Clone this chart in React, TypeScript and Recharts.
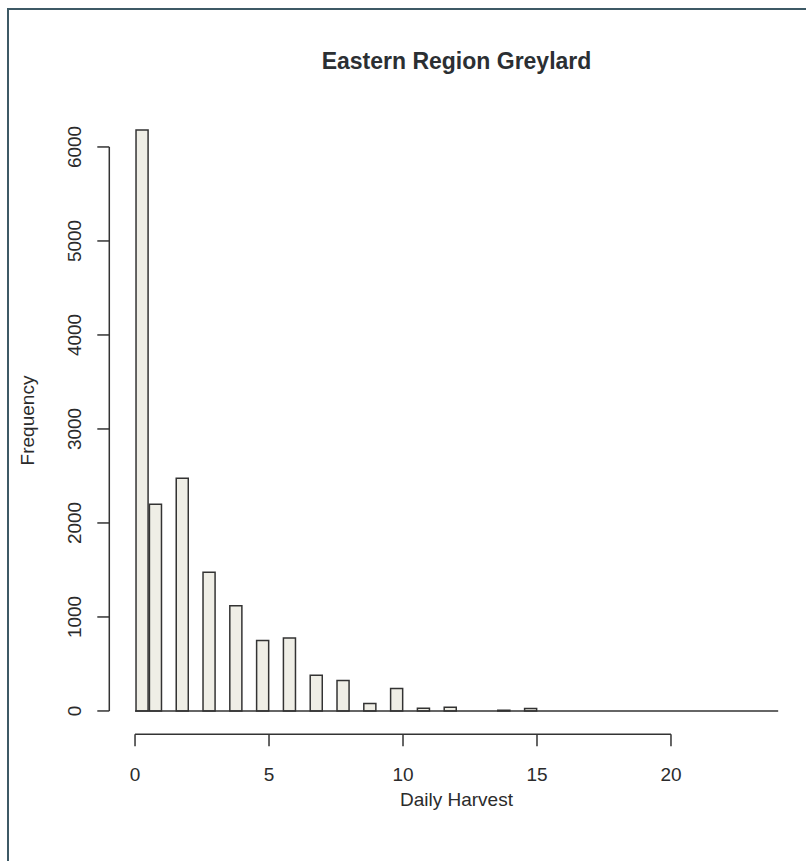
import React from 'react';
import { ComposedChart, Bar, XAxis, YAxis, ReferenceLine } from 'recharts';

// daily harvest value -> frequency (R hist, breaks every 0.5)
const harvestValues = [0, 1, 2, 3, 4, 5, 6, 7, 8, 9, 10, 11, 12, 13, 14, 15];
const frequencies = [6180, 2200, 2475, 1475, 1120, 750, 775, 380, 325, 80, 240, 30, 40, 0, 8, 25];
const xTicks = [0, 5, 10, 15, 20];
const yTicks = [0, 1000, 2000, 3000, 4000, 5000, 6000];

const BIN = 0.5;
const BREAK_MAX = 24;
const X_MIN = -0.04 * BREAK_MAX;
const X_MAX = BREAK_MAX * 1.04;
const Y_TOP = Math.max(...frequencies);
const Y_MIN = -0.04 * Y_TOP;
const Y_MAX = Y_TOP * 1.04;

const bins = harvestValues.map((v, i) => {
  const start = v === 0 ? 0 : v - BIN;
  return { mid: start + BIN / 2, count: frequencies[i] };
});

const W = 806;
const H = 861;
const margin = { top: 106.8, right: 2.1, bottom: 66.8, left: 9.3 };
const Y_AXIS_W = 100;
const X_AXIS_H = 60;
const plotWidth = W - margin.left - margin.right - Y_AXIS_W;
const barSize = (BIN * plotWidth) / (X_MAX - X_MIN);

const FONT = '"Liberation Sans", Arial, Helvetica, sans-serif';
const INK = '#333';

const YTick = (props: any) => {
  const { x, y, payload } = props;
  const tx = x - 16.5;
  return (
    <text
      x={tx}
      y={y}
      transform={`rotate(-90 ${tx} ${y})`}
      textAnchor="middle"
      fontSize={19}
      fontFamily={FONT}
      fill="#2b2b2b"
    >
      {payload.value}
    </text>
  );
};

export default function App() {
  return (
    <div
      style={{
        position: 'absolute',
        left: 0,
        top: 0,
        width: W,
        height: H,
        background: '#fff',
        overflow: 'hidden',
        fontFamily: FONT,
      }}
    >
      <div
        style={{
          position: 'absolute',
          left: 7,
          top: 8,
          right: -4,
          bottom: -4,
          borderTop: '2px solid #3d5965',
          borderLeft: '2px solid #3d5965',
        }}
      />
      <ComposedChart width={W} height={H} data={bins} margin={margin}>
        <XAxis
          type="number"
          dataKey="mid"
          domain={[X_MIN, X_MAX]}
          allowDataOverflow
          ticks={xTicks}
          axisLine={false}
          tickSize={12}
          tickMargin={21}
          height={X_AXIS_H}
          tickLine={{ stroke: INK, strokeWidth: 1.5 }}
          tick={{ fontSize: 19, fill: '#2b2b2b', fontFamily: FONT }}
        />
        <YAxis
          type="number"
          domain={[Y_MIN, Y_MAX]}
          allowDataOverflow
          ticks={yTicks}
          axisLine={false}
          tickSize={12}
          tickMargin={0}
          width={Y_AXIS_W}
          tickLine={{ stroke: INK, strokeWidth: 1.5 }}
          tick={<YTick />}
        />
        <ReferenceLine
          segment={[{ x: xTicks[0], y: Y_MIN }, { x: xTicks[xTicks.length - 1], y: Y_MIN }]}
          stroke={INK}
          strokeWidth={1.5}
          ifOverflow="visible"
        />
        <ReferenceLine
          segment={[{ x: X_MIN, y: yTicks[0] }, { x: X_MIN, y: yTicks[yTicks.length - 1] }]}
          stroke={INK}
          strokeWidth={1.5}
          ifOverflow="visible"
        />
        <ReferenceLine
          segment={[{ x: 0, y: 0 }, { x: BREAK_MAX, y: 0 }]}
          stroke={INK}
          strokeWidth={1.5}
          ifOverflow="visible"
        />
        <Bar
          dataKey="count"
          barSize={barSize}
          fill="#efeee6"
          stroke={INK}
          strokeWidth={1.5}
          isAnimationActive={false}
        />
      </ComposedChart>
      <div
        style={{
          position: 'absolute',
          left: 0,
          width: 913,
          top: 50,
          textAlign: 'center',
          fontSize: 23,
          lineHeight: '23px',
          fontWeight: 'bold',
          color: '#2b2f33',
        }}
      >
        Eastern Region Greylard
      </div>
      <div
        style={{
          position: 'absolute',
          left: 0,
          width: 913,
          top: 790,
          textAlign: 'center',
          fontSize: 19,
          lineHeight: '19px',
          color: '#2b2b2b',
        }}
      >
        Daily Harvest
      </div>
      <div
        style={{
          position: 'absolute',
          left: 27 - 100,
          top: 420.5 - 9.5,
          width: 200,
          textAlign: 'center',
          fontSize: 19,
          lineHeight: '19px',
          color: '#2b2b2b',
          transform: 'rotate(-90deg)',
        }}
      >
        Frequency
      </div>
    </div>
  );
}
